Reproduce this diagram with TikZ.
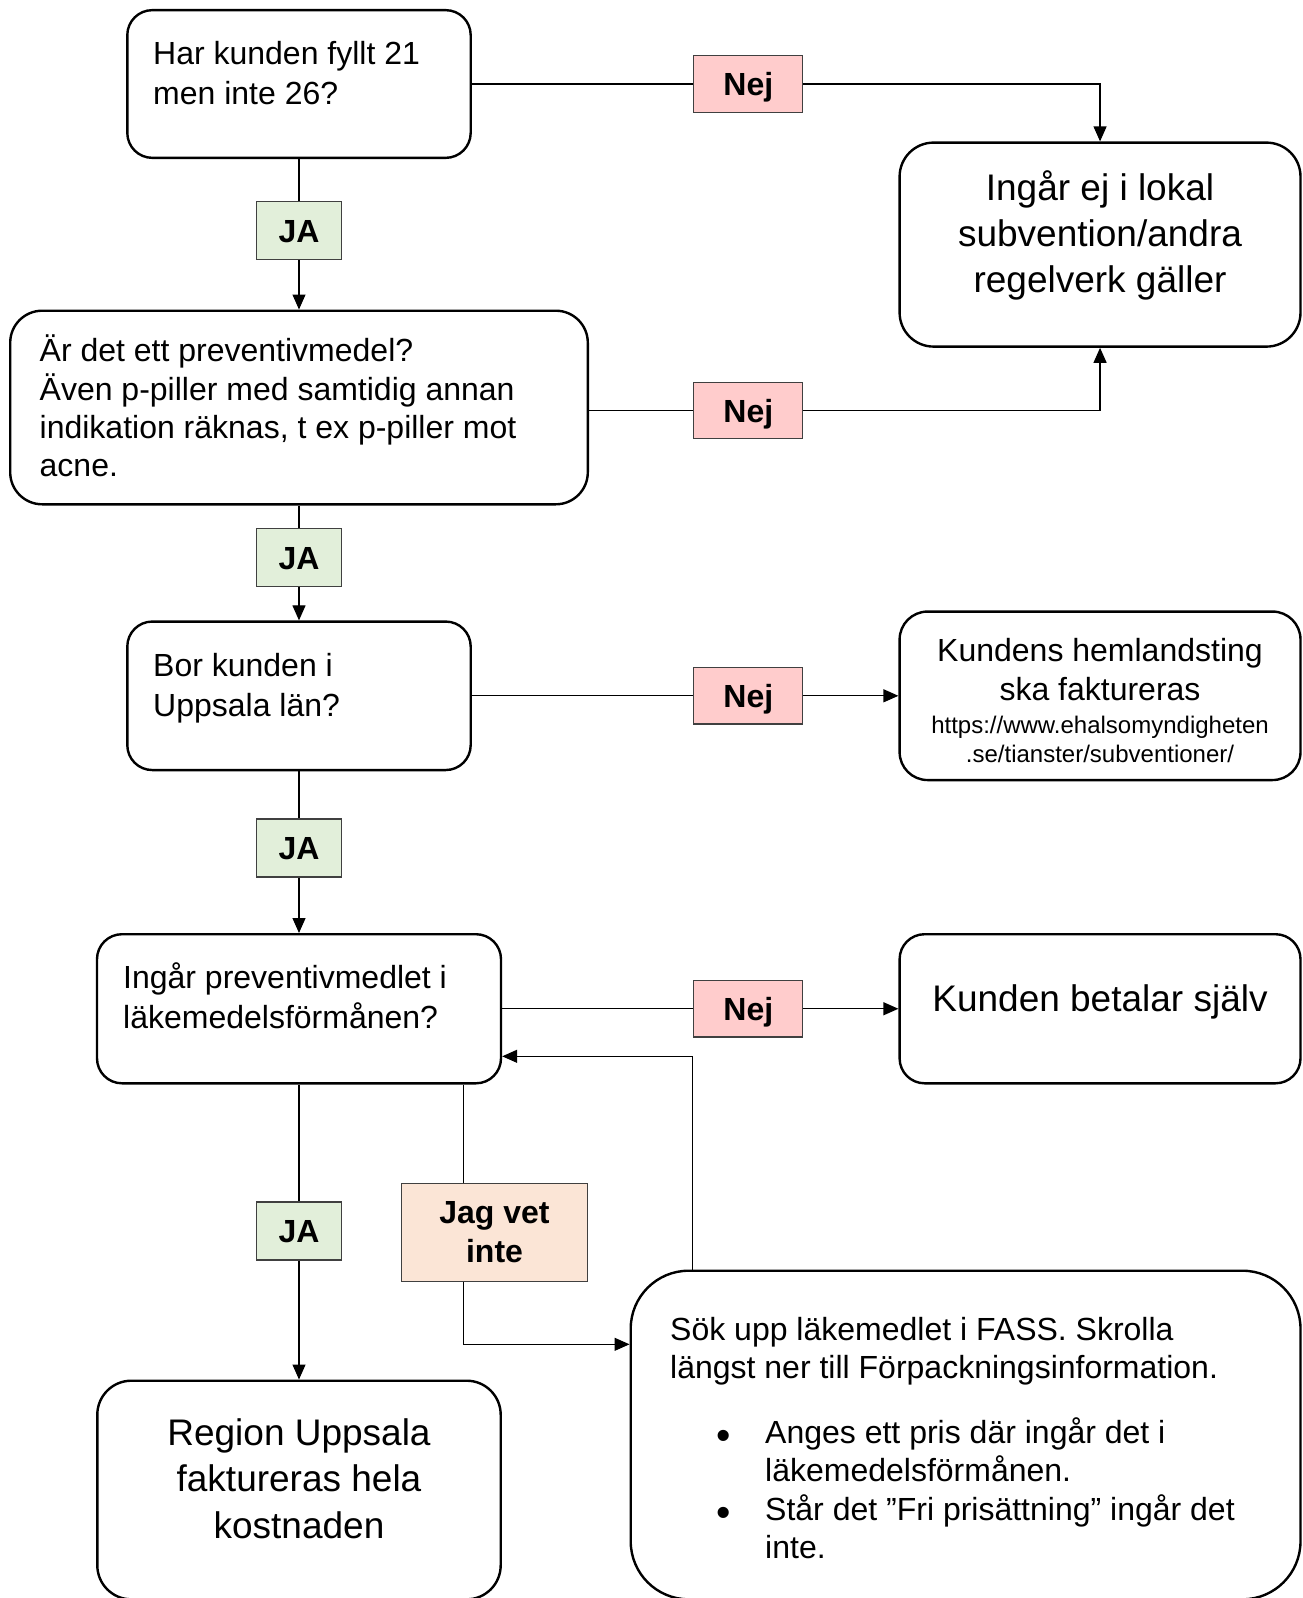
\documentclass[tikz,border=0pt]{standalone}
\usepackage{fontspec}
\setmainfont{Liberation Sans}
\usetikzlibrary{arrows.meta}
\definecolor{jagreen}{RGB}{226,239,218}
\definecolor{nejpink}{RGB}{255,204,204}
\definecolor{vetpeach}{RGB}{251,229,214}
\definecolor{lblborder}{RGB}{64,64,64}
\newcommand\fsN{\fontsize{32}{38.5}\selectfont}
\newcommand\fsB{\fontsize{37}{46}\selectfont}
\newcommand\fsU{\fontsize{24}{29}\selectfont}
\newcommand\fsL{\fontsize{32}{39}\selectfont\bfseries}
\newcommand\fsBul{\fontsize{41}{41}\selectfont}
\begin{document}
\begin{tikzpicture}[x=1pt,y=-1pt,
  box/.style={draw=black, line width=2.4pt, rounded corners=#1, inner sep=0pt, fill=white},
  lblbase/.style={draw=lblborder, line width=1.3pt, inner sep=0pt, font=\fsL},
  jalbl/.style={lblbase, text height=23pt, text depth=0pt, fill=jagreen, minimum width=85.6pt, minimum height=58pt},
  nejlbl/.style={lblbase, text height=23pt, text depth=0pt, fill=nejpink, minimum width=109pt, minimum height=56.5pt},
  vetlbl/.style={lblbase, fill=vetpeach, align=center, minimum width=185.6pt, minimum height=97.6pt},
  txl/.style={inner sep=0pt, anchor=base west, font=\fsN},
  txc/.style={inner sep=0pt, anchor=base, font=\fsN},
  txb/.style={inner sep=0pt, anchor=base, font=\fsB},
  txu/.style={inner sep=0pt, anchor=base, font=\fsU},
  bul/.style={inner sep=0pt, anchor=base, font=\fsBul},
  conn/.style={line width=1.2pt, draw=black},
  arr/.style={conn, -{Triangle[length=15pt,width=13pt]}},
]
\fill[white] (0,0) rectangle (1303,1598);
\useasboundingbox (0,0) rectangle (1303,1598);

% boxes
\node[box=25pt, minimum width=343.4pt, minimum height=147.7pt] (A) at (299,84) {};
\node[box=32pt, minimum width=577.6pt, minimum height=193.6pt] (B) at (299,407.5) {};
\node[box=34pt, minimum width=400.9pt, minimum height=204pt] (C) at (1100.05,244.6) {};
\node[box=25pt, minimum width=343.4pt, minimum height=148.5pt] (D) at (299,695.8) {};
\node[box=28pt, minimum width=400.9pt, minimum height=168.5pt] (E) at (1100.05,695.8) {};
\node[box=25pt, minimum width=404pt, minimum height=149.1pt] (F) at (299,1008.75) {};
\node[box=25pt, minimum width=400.9pt, minimum height=149.1pt] (G) at (1100.05,1008.75) {};
\node[box=34pt, minimum width=403.4pt, minimum height=218.6pt] (H) at (299,1490) {};
\node[box=58pt, minimum width=669.8pt, minimum height=328.6pt] (I) at (965.6,1435) {};

% box texts
\node[txl] (tA1) at (153,64.5) {Har kunden fyllt 21};
\node[txl] (tA2) at (153,104) {men inte 26?};

\node[txl] (tB1) at (39.5,361.7) {Är det ett preventivmedel?};
\node[txl] (tB2) at (39.5,400) {Även p-piller med samtidig annan};
\node[txl] (tB3) at (39.5,438.3) {indikation räknas, t ex p-piller mot};
\node[txl] (tB4) at (39.5,476.7) {acne.};

\node[txb] (tC1) at (1100,200) {Ingår ej i lokal};
\node[txb] (tC2) at (1100,246) {subvention/andra};
\node[txb] (tC3) at (1100,292) {regelverk gäller};

\node[txl] (tD1) at (153,676.5) {Bor kunden i};
\node[txl] (tD2) at (153,716) {Uppsala län?};

\node[txc] (tE1) at (1100,661.5) {Kundens hemlandsting};
\node[txc] (tE2) at (1100,700) {ska faktureras};
\node[txu] (tE3) at (1100,733.5) {https://www.ehalsomyndigheten};
\node[txu] (tE4) at (1100,762) {.se/tianster/subventioner/};

\node[txl] (tF1) at (123,988.5) {Ingår preventivmedlet i};
\node[txl] (tF2) at (123,1028) {läkemedelsförmånen?};

\node[txb] (tG1) at (1100,1011) {Kunden betalar själv};

\node[txb] (tH1) at (299,1445) {Region Uppsala};
\node[txb] (tH2) at (299,1491.7) {faktureras hela};
\node[txb] (tH3) at (299,1538) {kostnaden};

\node[txl] (tI1) at (670,1340) {Sök upp läkemedlet i FASS. Skrolla};
\node[txl] (tI2) at (670,1378.3) {längst ner till Förpackningsinformation.};
\node[bul] (bI1) at (723.3,1449.4) {•};
\node[txl] (tI3) at (765,1443.3) {Anges ett pris där ingår det i};
\node[txl] (tI4) at (765,1481.7) {läkemedelsförmånen.};
\node[bul] (bI2) at (723.3,1526) {•};
\node[txl] (tI5) at (765,1520) {Står det ”Fri prisättning” ingår det};
\node[txl] (tI6) at (765,1558.3) {inte.};

% labels
\node[jalbl] (ja1) at (299,230.8) {JA};
\node[jalbl] (ja2) at (299,557.8) {JA};
\node[jalbl] (ja3) at (299,848) {JA};
\node[jalbl] (ja4) at (299,1231) {JA};
\node[nejlbl] (nej1) at (748.3,84) {Nej};
\node[nejlbl] (nej2) at (748.3,410.5) {Nej};
\node[nejlbl] (nej3) at (748.3,695.8) {Nej};
\node[nejlbl] (nej4) at (748.3,1008.75) {Nej};
\node[vetlbl] (vet) at (494.5,1232.5) {Jag vet\\inte};

% connectors
\draw[conn] (A.east) -- (nej1.west);
\draw[arr] (nej1.east) -| (C.north);
\draw[conn] (A.south) -- (ja1.north);
\draw[arr] (ja1.south) -- (B.north);
\draw[conn] (B.east |- nej2.west) -- (nej2.west);
\draw[arr] (nej2.east) -| (C.south);
\draw[conn] (B.south) -- (ja2.north);
\draw[arr] (ja2.south) -- (D.north);
\draw[conn] (D.east) -- (nej3.west);
\draw[arr] (nej3.east) -- (E.west);
\draw[conn] (D.south) -- (ja3.north);
\draw[arr] (ja3.south) -- (F.north);
\draw[conn] (F.east) -- (nej4.west);
\draw[arr] (nej4.east) -- (G.west);
\draw[conn] (F.south) -- (ja4.north);
\draw[arr] (ja4.south) -- (H.north);
\coordinate (jx) at (463.3,1344.3);
\draw[conn] (F.south -| jx) -- (vet.north -| jx);
\draw[arr] (vet.south -| jx) |- (I.west |- jx);
\coordinate (rx) at (692.3,1056.3);
\draw[arr] (I.north -| rx) |- (F.east |- rx);
\end{tikzpicture}
\end{document}
